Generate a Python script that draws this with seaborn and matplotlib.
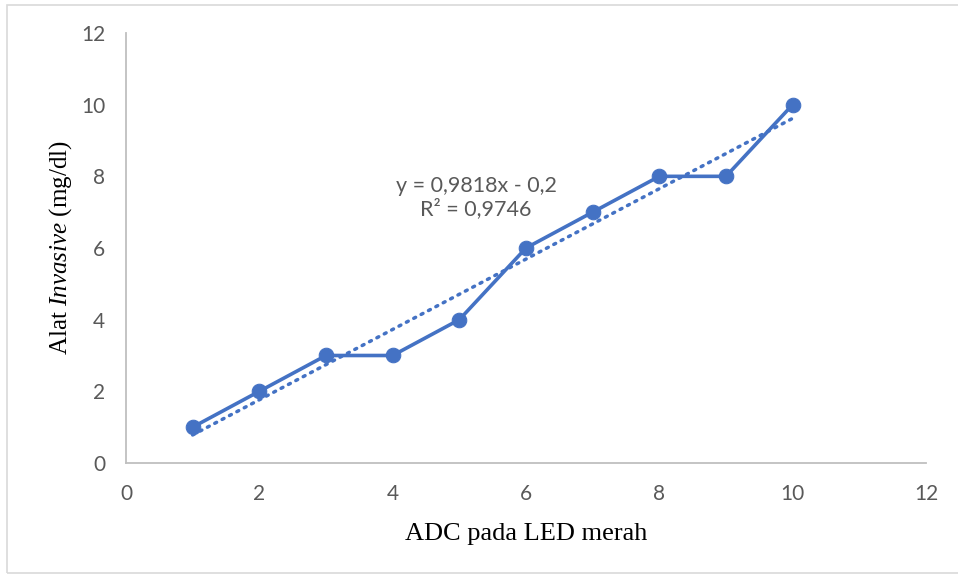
import matplotlib
matplotlib.use("Agg")
import matplotlib.pyplot as plt
import seaborn as sns
import numpy as np
import pandas as pd
from matplotlib.patches import Rectangle

# data
adc_merah = [1, 2, 3, 4, 5, 6, 7, 8, 9, 10]
alat_invasive = [1, 2, 3, 3, 4, 6, 7, 8, 8, 10]
slope = 0.9818
intercept = -0.2
eq_text = "y = 0,9818x - 0,2\nR² = 0,9746"

df = pd.DataFrame({"x": adc_merah, "y": alat_invasive})

sns.set_style("white")
plt.rcParams["font.family"] = ["Lato", "DejaVu Sans"]
plt.rcParams["mathtext.fontset"] = "custom"
plt.rcParams["mathtext.rm"] = "Liberation Serif"
plt.rcParams["mathtext.it"] = "Liberation Serif:italic"

blue = "#4472C4"
grid_gray = "#BFBFBF"
text_gray = "#595959"

fig = plt.figure(figsize=(9.58, 5.75), dpi=100)
ax = fig.add_axes([0.1315, 0.1948, 0.8351, 0.7478])

# trendline
tx = np.array([min(adc_merah), max(adc_merah)])
ax.plot(tx, slope * tx + intercept, color=blue, lw=2.5, ls=(0, (0.6, 1.8)),
        dash_capstyle="round", zorder=2)

sns.lineplot(data=df, x="x", y="y", ax=ax, color=blue, lw=2.6, marker="o",
             markersize=10.5, markeredgecolor=blue, zorder=3)

ax.text(5.25, 7.4, eq_text, ha="center", va="center", fontsize=15.5,
        color=text_gray, linespacing=1.15)

ax.set_xlim(0, 12)
ax.set_ylim(0, 12)
ax.set_xticks(range(0, 13, 2))
ax.set_yticks(range(0, 13, 2))
for s in ["top", "right"]:
    ax.spines[s].set_visible(False)
for s in ["left", "bottom"]:
    ax.spines[s].set_color(grid_gray)
    ax.spines[s].set_linewidth(1.3)
ax.tick_params(axis="both", which="both", direction="out", length=5, width=1.3,
               color=grid_gray, labelcolor=text_gray, labelsize=15, pad=10)

ax.set_xlabel("ADC pada LED merah", fontsize=19, family="Liberation Serif",
              color="black", labelpad=14)
ax.set_ylabel(r"Alat $\mathit{Invasive}$ (mg/dl)", fontsize=18,
              family="Liberation Serif", color="black", labelpad=5)

# light frame around chart area
fig.patches.append(Rectangle((7 / 958, 0.004), 1.0, 1 - 0.004 - 5 / 575,
                             transform=fig.transFigure, fill=False,
                             edgecolor="#D9D9D9", lw=1.2))

fig.savefig("out.png", dpi=100)
